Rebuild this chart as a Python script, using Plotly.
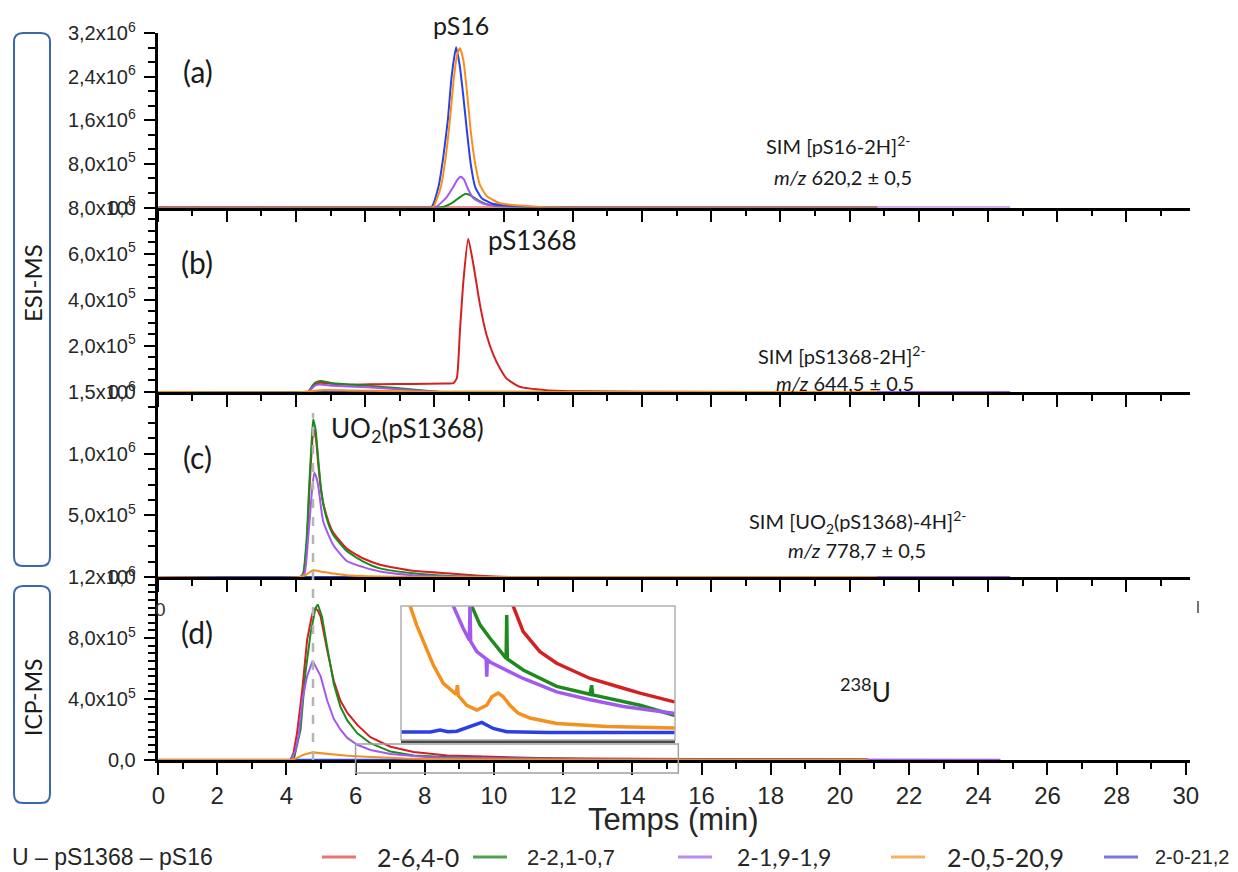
import plotly.graph_objects as go

W, H = 1238, 872
# the page body adds an 8 px offset around the figure; pixel positions below are page positions
PAGE_OFF = 8


def fx(px):
    return (px - PAGE_OFF) / W


def fy(py):
    return 1 - (py - PAGE_OFF) / H


# ---------------- colours ----------------
RED = "#d42020"
GREEN = "#1c8a1c"
PURPLE = "#a259f0"
ORANGE = "#f5901e"
BLUE = "#2a40e6"
LEG_COLORS = ["#e87474", "#4ea24e", "#bb8cf2", "#f4b264", "#7878d6"]

# ---------------- labels ----------------
LEGEND_TITLE = "U – pS1368 – pS16"
LEGEND_LABELS = ["2-6,4-0", "2-2,1-0,7", "2-1,9-1,9", "2-0,5-20,9", "2-0-21,2"]
X_TICK_VALS_D = [0.3, 2, 4, 6, 8, 10, 12, 14, 16, 18, 20, 22, 24, 26, 28, 30]
X_TICK_TEXT = ["0", "2", "4", "6", "8", "10", "12", "14", "16", "18", "20", "22", "24", "26", "28", "30"]
Y_TICKS_A = [0, 8e5, 1.6e6, 2.4e6, 3.2e6]
Y_TEXT_A = ["0,0", "8,0x10<sup>5</sup>", "1,6x10<sup>6</sup>", "2,4x10<sup>6</sup>", "3,2x10<sup>6</sup>"]
Y_TICKS_B = [0, 2e5, 4e5, 6e5, 8e5]
Y_TEXT_B = ["0,0", "2,0x10<sup>5</sup>", "4,0x10<sup>5</sup>", "6,0x10<sup>5</sup>", "8,0x10<sup>5</sup>"]
Y_TICKS_C = [0, 5e5, 1e6, 1.5e6]
Y_TEXT_C = ["0,0", "5,0x10<sup>5</sup>", "1,0x10<sup>6</sup>", "1,5x10<sup>6</sup>"]
Y_TICKS_D = [0, 4e5, 8e5, 1.2e6]
Y_TEXT_D = ["0,0", "4,0x10<sup>5</sup>", "8,0x10<sup>5</sup>", "1,2x10<sup>6</sup>"]

ICP_PEAK_T = 4.77
INSET_T_RANGE = [6.0, 15.33]
INSET_Y_MAX = 22000

# ---------------- (a) SIM pS16 ----------------
A_T_RED = [0, 20.8]
A_V_RED = [0, 0]
A_T_GREEN = [0, 8.1, 8.26, 8.55, 8.74, 8.91, 9.08, 9.27, 9.51, 9.9, 10.5, 11.5, 20.8]
A_V_GREEN = [0, 0, 0.01e6, 0.1e6, 0.19e6, 0.25e6, 0.21e6, 0.13e6, 0.06e6, 0.025e6, 0.01e6, 0, 0]
A_T_PURPLE = [0, 7.85, 8.07, 8.36, 8.55, 8.67, 8.76, 8.86, 8.98, 9.13, 9.42, 9.9, 10.5, 11.5, 24.64]
A_V_PURPLE = [0, 0, 0.02e6, 0.19e6, 0.38e6, 0.51e6, 0.565e6, 0.51e6, 0.33e6, 0.17e6, 0.07e6, 0.03e6, 0.01e6, 0, 0]
A_T_BLUE = [0, 7.7, 7.92, 8.12, 8.26, 8.39, 8.50, 8.63, 8.74, 8.84, 8.94, 9.05, 9.18, 9.37, 9.71, 10.19, 10.86, 12.0, 20.8]
A_V_BLUE = [0, 0, 0.01e6, 0.38e6, 0.93e6, 1.6e6, 2.4e6, 2.94e6, 2.58e6, 2.03e6, 1.42e6, 0.81e6, 0.38e6, 0.17e6,
            0.064e6, 0.03e6, 0.01e6, 0, 0]
A_T_ORANGE = [0, 7.75, 7.97, 8.19, 8.33, 8.45, 8.57, 8.66, 8.74, 8.84, 8.94, 9.05, 9.18, 9.32, 9.53, 9.9, 10.48,
              11.05, 12.5, 20.8]
A_V_ORANGE = [0, 0, 0.01e6, 0.38e6, 0.93e6, 1.6e6, 2.4e6, 2.8e6, 2.92e6, 2.7e6, 2.15e6, 1.42e6, 0.81e6, 0.41e6,
              0.2e6, 0.077e6, 0.035e6, 0.01e6, 0, 0]

# ---------------- (b) SIM pS1368 ----------------
B_T_RED = [0, 4.2, 4.36, 4.5, 4.7, 5.0, 5.47, 6.43, 7.39, 8.3, 8.55, 8.65, 8.74, 8.84, 8.98, 9.13, 9.32, 9.51,
           9.71, 9.9, 10.09, 10.48, 11.24, 12.21, 14.0, 20.8]
B_V_RED = [0, 0, 0.01e5, 0.3e5, 0.4e5, 0.36e5, 0.32e5, 0.34e5, 0.35e5, 0.37e5, 0.38e5, 0.6e5, 2.63e5, 4.8e5,
           6.65e5, 5.52e5, 3.78e5, 2.47e5, 1.6e5, 1.02e5, 0.58e5, 0.22e5, 0.08e5, 0.03e5, 0.01e5, 0]
B_T_GREEN = [0, 4.2, 4.36, 4.55, 4.7, 5.08, 5.95, 6.91, 7.68, 8.2, 20.8]
B_V_GREEN = [0, 0, 0.01e5, 0.4e5, 0.48e5, 0.38e5, 0.29e5, 0.17e5, 0.07e5, 0.01e5, 0]
B_T_PURPLE = [0, 4.2, 4.36, 4.55, 4.7, 5.08, 5.95, 6.91, 7.68, 8.2, 24.64]
B_V_PURPLE = [0, 0, 0.01e5, 0.28e5, 0.33e5, 0.27e5, 0.22e5, 0.12e5, 0.04e5, 0, 0]
B_T_BLUE = [0, 20.8]
B_V_BLUE = [0, 0]
B_T_ORANGE = [0, 4.2, 4.4, 4.7, 5.5, 7.0, 8.0, 20.8]
B_V_ORANGE = [0, 0, 0.03e5, 0.08e5, 0.07e5, 0.03e5, 0.005e5, 0]

# ---------------- (c) SIM UO2(pS1368) ----------------
C_T_RED = [0, 4.12, 4.21, 4.31, 4.39, 4.46, 4.51, 4.58, 4.65, 4.72, 4.79, 4.94, 5.08, 5.47, 5.95, 6.43, 7.39,
           8.36, 9.3, 10.2, 20.8]
C_V_RED = [0, 0, 0.02e6, 0.25e6, 0.7e6, 1.05e6, 1.2e6, 1.12e6, 0.9e6, 0.72e6, 0.6e6, 0.45e6, 0.36e6, 0.23e6,
           0.15e6, 0.1e6, 0.05e6, 0.03e6, 0.01e6, 0, 0]
C_T_GREEN = [0, 4.12, 4.21, 4.31, 4.39, 4.46, 4.50, 4.57, 4.65, 4.72, 4.79, 4.94, 5.08, 5.47, 5.95, 6.43, 7.39,
             8.36, 9.5, 20.8]
C_V_GREEN = [0, 0, 0.03e6, 0.31e6, 0.77e6, 1.12e6, 1.28e6, 1.19e6, 0.94e6, 0.73e6, 0.59e6, 0.43e6, 0.34e6,
             0.21e6, 0.125e6, 0.07e6, 0.03e6, 0.01e6, 0, 0]
C_T_PURPLE = [0, 4.12, 4.25, 4.35, 4.45, 4.53, 4.6, 4.65, 4.79, 5.08, 5.47, 5.95, 6.43, 7.39, 8.36, 9.5, 24.64]
C_V_PURPLE = [0, 0, 0.03e6, 0.3e6, 0.65e6, 0.845e6, 0.8e6, 0.73e6, 0.45e6, 0.26e6, 0.13e6, 0.08e6, 0.045e6,
              0.015e6, 0.005e6, 0, 0]
C_T_BLUE = [0, 20.8]
C_V_BLUE = [0, 0]
C_T_ORANGE = [0, 4.12, 4.3, 4.5, 4.7, 5.08, 5.47, 6.43, 7.5, 20.8]
C_V_ORANGE = [0, 0, 0.02e6, 0.054e6, 0.045e6, 0.028e6, 0.015e6, 0.005e6, 0, 0]

# ---------------- (d) ICP-MS 238U ----------------
D_T_RED = [0, 4.12, 4.21, 4.31, 4.46, 4.60, 4.75, 4.84, 4.91, 4.99, 5.18, 5.37, 5.56, 5.76, 6.05, 6.43, 7.01,
           7.68, 8.65, 9.82, 10.16, 10.73, 11.30, 12.44, 13.57, 14.14, 15.27, 16.5, 18.0, 20.8]
D_V_RED = [0, 0, 5e4, 1.8e5, 4.6e5, 7.9e5, 9.6e5, 9.95e5, 9.8e5, 9.4e5, 7.2e5, 5.2e5, 3.9e5, 3.1e5, 2.3e5,
           1.5e5, 8.7e4, 5.2e4, 3.0e4, 22000, 17800, 14500, 12600, 10100, 8500, 7700, 6300, 5500, 4500, 3500]
D_T_GREEN = [0, 4.21, 4.41, 4.55, 4.70, 4.84, 4.91, 5.03, 5.18, 5.37, 5.56, 5.76, 6.05, 6.43, 7.01, 7.68, 8.41,
             8.69, 9.03, 9.48, 9.58, 9.60, 9.62, 10.16, 10.73, 11.30, 12.44, 12.49, 12.53, 13.57, 14.14, 15.27, 20.8]
D_V_GREEN = [0, 0, 2.0e5, 5.7e5, 8.3e5, 9.95e5, 1.02e6, 9.4e5, 7.4e5, 5.0e5, 3.5e5, 2.6e5, 1.75e5, 1.1e5,
             5.5e4, 3.0e4, 22000, 18900, 16700, 14000, 13400, 20500, 13300, 11500, 10100, 8800, 7500, 9000,
             7400, 6300, 5700, 4100, 2500]
D_T_PURPLE = [0, 4.12, 4.26, 4.36, 4.46, 4.60, 4.76, 4.99, 5.18, 5.37, 5.56, 5.76, 6.05, 6.43, 7.01, 7.78,
              8.12, 8.33, 8.35, 8.37, 8.58, 8.90, 8.92, 8.94, 9.03, 9.60, 10.16, 11.30, 12.44, 13.57, 15.27,
              20.0, 24.64]
D_V_PURPLE = [0, 0, 6e4, 1.7e5, 3.9e5, 5.5e5, 6.5e5, 5.5e5, 3.9e5, 2.7e5, 2.0e5, 1.45e5, 1.0e5, 6.6e4, 4.0e4,
              22000, 18300, 16400, 23000, 16200, 14500, 13300, 10400, 13200, 12800, 11500, 10100, 7900, 6600,
              5500, 4400, 2500, 1500]
D_T_BLUE = [0, 6.0, 7.0, 7.33, 7.6, 7.9, 8.35, 8.75, 9.14, 9.6, 11.0, 20.8]
D_V_BLUE = [1250, 1260, 1300, 1650, 1350, 1450, 2200, 2900, 1900, 1350, 1250, 1250]
D_T_ORANGE = [0, 4.12, 4.30, 4.50, 4.76, 5.00, 5.27, 5.76, 6.31, 6.53, 6.76, 7.10, 7.44, 7.88, 7.92, 7.95,
              8.24, 8.58, 8.92, 9.09, 9.31, 9.48, 9.71, 9.99, 10.39, 11.30, 13.0, 15.27, 20.8]
D_V_ORANGE = [0, 0, 12000, 35000, 50000, 45000, 37000, 28000, 22000, 18900, 16100, 12300, 9300, 7500, 9000,
              7300, 5700, 4900, 5700, 7100, 7700, 7100, 5700, 4400, 3600, 2700, 2200, 1800, 1400]

PANELS = [
    ("x", "y", [(A_T_RED, A_V_RED, RED), (A_T_GREEN, A_V_GREEN, GREEN), (A_T_PURPLE, A_V_PURPLE, PURPLE),
                (A_T_BLUE, A_V_BLUE, BLUE), (A_T_ORANGE, A_V_ORANGE, ORANGE)], "spline", 2),
    ("x2", "y2", [(B_T_RED, B_V_RED, RED), (B_T_GREEN, B_V_GREEN, GREEN), (B_T_PURPLE, B_V_PURPLE, PURPLE),
                  (B_T_BLUE, B_V_BLUE, BLUE), (B_T_ORANGE, B_V_ORANGE, ORANGE)], "spline", 2),
    ("x3", "y3", [(C_T_RED, C_V_RED, RED), (C_T_GREEN, C_V_GREEN, GREEN), (C_T_PURPLE, C_V_PURPLE, PURPLE),
                  (C_T_BLUE, C_V_BLUE, BLUE), (C_T_ORANGE, C_V_ORANGE, ORANGE)], "spline", 2),
    ("x4", "y4", [(D_T_RED, D_V_RED, RED), (D_T_GREEN, D_V_GREEN, GREEN), (D_T_PURPLE, D_V_PURPLE, PURPLE),
                  (D_T_BLUE, D_V_BLUE, BLUE), (D_T_ORANGE, D_V_ORANGE, ORANGE)], "linear", 2),
    ("x5", "y5", [(D_T_RED, D_V_RED, RED), (D_T_GREEN, D_V_GREEN, GREEN), (D_T_PURPLE, D_V_PURPLE, PURPLE),
                  (D_T_BLUE, D_V_BLUE, BLUE), (D_T_ORANGE, D_V_ORANGE, ORANGE)], "linear", 3.5),
]

fig = go.Figure()
for xa, ya, series, shp, lw in PANELS:
    for t, v, col in series:
        line = dict(color=col, width=lw, shape=shp)
        if shp == "spline":
            line["smoothing"] = 0.5
        fig.add_trace(go.Scatter(x=t, y=v, mode="lines", line=line, xaxis=xa, yaxis=ya,
                                 showlegend=False, hoverinfo="skip"))

# ---------------- geometry (page pixels) ----------------
X_L, X_R = 157.5, 1190
Y_EDGES = [33, 207.5, 392, 577, 760]

SANS = "Liberation Sans, Arial, sans-serif"
TICKFONT = dict(family=SANS, size=20, color="#262626")
AXLINE = dict(showline=True, linecolor="black", linewidth=2.5, showgrid=False, zeroline=False)


def xax(anchor, rng, labels):
    d = dict(domain=[fx(X_L), fx(X_R)], anchor=anchor, range=rng, ticks="outside", ticklen=12, tickwidth=2,
             tickcolor="black", layer="below traces",
             minor=dict(ticks="outside", ticklen=6, tickwidth=2, tickcolor="black", dtick=1, tick0=0),
             **AXLINE)
    if labels:
        d.update(tickmode="array", tickvals=X_TICK_VALS_D, ticktext=X_TICK_TEXT, showticklabels=True,
                 tickfont=dict(family=SANS, size=24, color="#262626"), ticklabelstandoff=0)
    else:
        d.update(dtick=2, tick0=0, showticklabels=False)
    return d


def yax(anchor, top_px, bot_px, rng, vals, text, minor_dtick):
    return dict(domain=[fy(bot_px), fy(top_px)], anchor=anchor, range=rng, tickmode="array", tickvals=vals,
                ticktext=text, ticks="outside", ticklen=11, tickwidth=2, tickcolor="black",
                tickfont=TICKFONT, ticklabelstandoff=4,
                minor=dict(ticks="outside", ticklen=7, tickwidth=2, tickcolor="black", dtick=minor_dtick, tick0=0),
                **AXLINE)


fig.update_layout(
    width=W, height=H, margin=dict(l=0, r=0, t=0, b=0, autoexpand=False),
    paper_bgcolor="white", plot_bgcolor="rgba(0,0,0,0)", showlegend=False,
    xaxis=xax("y", [0, 29.84], False),
    xaxis2=xax("y2", [0, 29.84], False),
    xaxis3=xax("y3", [0, 29.84], False),
    xaxis4=xax("y4", [0.275, 30.12], True),
    yaxis=yax("x", Y_EDGES[0], Y_EDGES[1], [0, 3.2e6], Y_TICKS_A, Y_TEXT_A, 8e5 / 3),
    yaxis2=yax("x2", Y_EDGES[1], Y_EDGES[2], [0, 8e5], Y_TICKS_B, Y_TEXT_B, 5e4),
    yaxis3=yax("x3", Y_EDGES[2], Y_EDGES[3], [0, 1.5e6], Y_TICKS_C, Y_TEXT_C, 1.25e5),
    yaxis4=yax("x4", Y_EDGES[3], Y_EDGES[4], [0, 1.2e6], Y_TICKS_D, Y_TEXT_D, 5e4),
    xaxis5=dict(domain=[fx(401), fx(675)], anchor="y5", range=INSET_T_RANGE, showline=True, linecolor="#4a4a4a",
                linewidth=3, showgrid=False, zeroline=False, showticklabels=False, ticks=""),
    yaxis5=dict(domain=[fy(740), fy(606)], anchor="x5", range=[0, INSET_Y_MAX], showline=False, showgrid=False,
                zeroline=False, showticklabels=False, ticks=""),
)


def rounded_box(x0, y0, x1, y1, r=9):
    rx, ry = r / W, r / H
    X0, X1 = fx(x0), fx(x1)
    Yt, Yb = fy(y0), fy(y1)
    return (f"M {X0 + rx},{Yt} L {X1 - rx},{Yt} Q {X1},{Yt} {X1},{Yt - ry} "
            f"L {X1},{Yb + ry} Q {X1},{Yb} {X1 - rx},{Yb} L {X0 + rx},{Yb} Q {X0},{Yb} {X0},{Yb + ry} "
            f"L {X0},{Yt - ry} Q {X0},{Yt} {X0 + rx},{Yt} Z")


BOX_COLOR = "#3c66b0"
shapes = [
    dict(type="path", xref="paper", yref="paper", path=rounded_box(14, 33, 50, 566),
         line=dict(color=BOX_COLOR, width=2)),
    dict(type="path", xref="paper", yref="paper", path=rounded_box(14, 586, 50, 803),
         line=dict(color=BOX_COLOR, width=2)),
    # dashed guide line at ICP peak
    dict(type="line", xref="x4", yref="paper", x0=ICP_PEAK_T, x1=ICP_PEAK_T, y0=fy(760), y1=fy(413),
         line=dict(color="#b4b4b4", width=2.5, dash="dash")),
    # zoom region marker in (d)
    dict(type="rect", xref="x4", yref="paper", x0=INSET_T_RANGE[0], x1=INSET_T_RANGE[1], y0=fy(773), y1=fy(744),
         line=dict(color="#a0a0a0", width=1.5)),
    # inset frame
    dict(type="rect", xref="paper", yref="paper", x0=fx(401), x1=fx(675), y0=fy(740), y1=fy(606),
         line=dict(color="#b0b0b0", width=1.5)),
    # small stray mark at the right of panel (d) top
    dict(type="line", xref="paper", yref="paper", x0=fx(1198), x1=fx(1198), y0=fy(613), y1=fy(601),
         line=dict(color="#444", width=1.5)),
]

# custom legend
LEG_LINE_X = [(322, 356), (473, 507), (678, 712), (891, 925), (1104, 1138)]
LEG_TEXT_X = [375, 525, 735, 945, 1153]
LEG_FONTS = [("Lato, sans-serif", 25), (SANS, 22), ("Lato, sans-serif", 23), ("Lato, sans-serif", 25),
             (SANS, 20)]
LEG_Y = 857
for (a, b), col in zip(LEG_LINE_X, LEG_COLORS):
    shapes.append(dict(type="line", xref="paper", yref="paper", x0=fx(a), x1=fx(b), y0=fy(LEG_Y), y1=fy(LEG_Y),
                       line=dict(color=col, width=3)))

fig.update_layout(shapes=shapes)

TXT = "Lato, sans-serif"
ann = []


def add_text(text, px, py, size, family=TXT, xanchor="center", angle=0, color="#1a1a1a"):
    ann.append(dict(text=text, x=fx(px), y=fy(py), xref="paper", yref="paper", showarrow=False,
                    xanchor=xanchor, yanchor="middle", textangle=angle,
                    font=dict(family=family, size=size, color=color)))


add_text("(a)", 198, 71, 30)
add_text("(b)", 197, 262, 30)
add_text("(c)", 197, 457, 30)
add_text("(d)", 197, 632, 30)
add_text("pS16", 461, 25, 25)
add_text("pS1368", 532, 240, 26)
add_text("UO<sub>2</sub>(pS1368)", 407, 429, 26)
add_text("SIM [pS16-2H]<sup>2-</sup>", 838, 145, 20)
add_text("<i>m/z</i> 620,2 ± 0,5", 843, 177, 20)
add_text("SIM [pS1368-2H]<sup>2-</sup>", 842, 355, 20)
add_text("<i>m/z</i> 644,5 ± 0,5", 845, 383, 20)
add_text("SIM [UO<sub>2</sub>(pS1368)-4H]<sup>2-</sup>", 858, 522, 20)
add_text("<i>m/z</i> 778,7 ± 0,5", 857, 550, 20)
add_text("<sup>238</sup>U", 865, 690, 26)
add_text("ESI-MS", 32, 283, 24, angle=-90)
add_text("ICP-MS", 33, 698, 23, angle=-90)
add_text("0", 160, 609, 19, family=SANS, color="#333")
add_text("Temps (min)", 674, 819, 31, family=SANS, color="#262626")
add_text(LEGEND_TITLE, 10, LEG_Y, 23, family=SANS, xanchor="left", color="#262626")
for label, xpos, (fam, sz) in zip(LEGEND_LABELS, LEG_TEXT_X, LEG_FONTS):
    add_text(label, xpos, LEG_Y, sz, family=fam, xanchor="left", color="#262626")

fig.update_layout(annotations=ann)
fig.write_html("out.html")
